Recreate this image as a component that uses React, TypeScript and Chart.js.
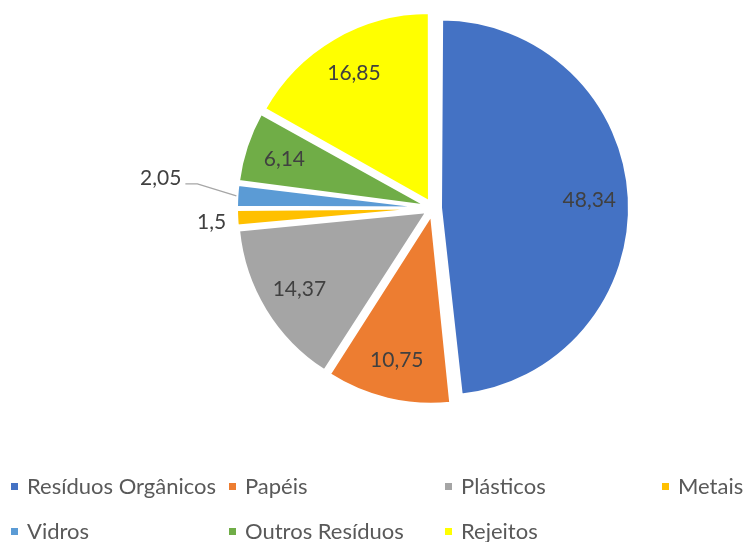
import React, { useEffect, useRef } from "react";
import { Chart, registerables } from "chart.js";

Chart.register(...registerables);

const categories = ["Resíduos Orgânicos", "Papéis", "Plásticos", "Metais", "Vidros", "Outros Resíduos", "Rejeitos"];
const values = [48.34, 10.75, 14.37, 1.5, 2.05, 6.14, 16.85];
const valueLabels = ["48,34", "10,75", "14,37", "1,5", "2,05", "6,14", "16,85"];
const colors = ["#4472C4", "#ED7D31", "#A5A5A5", "#FFC000", "#5B9BD5", "#70AD47", "#FFFF00"];

const FONT = "Lato, 'Noto Sans', sans-serif";
const OFFSET = 32; // chart.js divides by 4 -> 8px explosion
const RADIUS = 188;

const fixRadiusPlugin = {
  id: "fixRadius",
  beforeDatasetsDraw(chart: any) {
    const meta = chart.getDatasetMeta(0);
    const base = meta.controller.outerRadius;
    const off = OFFSET / 4;
    meta.data.forEach((arc: any) => {
      const circ = arc.circumference;
      const fix = 1 - Math.sin(Math.min(Math.PI, circ || 0));
      arc.outerRadius = base - off * fix;
    });
  },
};

const labelPlugin = {
  id: "sliceLabels",
  afterDatasetsDraw(chart: any) {
    const ctx = chart.ctx;
    const meta = chart.getDatasetMeta(0);
    const R = meta.controller.outerRadius;
    const off = OFFSET / 4;
    ctx.save();
    ctx.font = `21px ${FONT}`;
    ctx.fillStyle = "#404040";
    meta.data.forEach((arc: any, i: number) => {
      const mid = (arc.startAngle + arc.endAngle) / 2;
      const ax = arc.x + Math.cos(mid) * off;
      const ay = arc.y + Math.sin(mid) * off;
      const v = values[i];
      if (v >= 3) {
        ctx.textAlign = "center";
        ctx.textBaseline = "middle";
        ctx.fillText(valueLabels[i], ax + Math.cos(mid) * R * 0.79, ay + Math.sin(mid) * R * 0.79);
      } else {
        const rx = ax + Math.cos(mid) * (R + 1);
        const ry = ay + Math.sin(mid) * (R + 1);
        if (i === 4) {
          const p1x = rx - 39, p1y = ry - 12;
          const p2x = p1x - 12;
          ctx.strokeStyle = "#A6A6A6";
          ctx.lineWidth = 1.3;
          ctx.beginPath();
          ctx.moveTo(rx, ry);
          ctx.lineTo(p1x, p1y);
          ctx.lineTo(p2x, p1y);
          ctx.stroke();
          ctx.textAlign = "right";
          ctx.textBaseline = "middle";
          ctx.fillText(valueLabels[i], p2x - 4, p1y - 6);
        } else {
          ctx.textAlign = "right";
          ctx.textBaseline = "middle";
          ctx.fillText(valueLabels[i], rx - 10, ry + 4);
        }
      }
    });
    ctx.restore();
  },
};

const legendPlugin = {
  id: "gridLegend",
  afterDraw(chart: any) {
    const ctx = chart.ctx;
    const cols = [11, 229, 445, 662];
    const rows = [487, 532];
    ctx.save();
    ctx.font = `22px ${FONT}`;
    ctx.textAlign = "left";
    ctx.textBaseline = "middle";
    categories.forEach((c, i) => {
      const col = i % 4;
      const row = Math.floor(i / 4);
      const x = cols[col];
      const y = rows[row];
      ctx.fillStyle = colors[i];
      ctx.fillRect(x, y - 4, 7, 7);
      ctx.fillStyle = "#595959";
      ctx.fillText(c, x + 16, y);
    });
    ctx.restore();
  },
};

export default function App() {
  const ref = useRef<HTMLCanvasElement>(null);
  useEffect(() => {
    if (!ref.current) return;
    const chart = new Chart(ref.current, {
      type: "pie",
      data: {
        labels: categories,
        datasets: [
          {
            data: values,
            backgroundColor: colors,
            borderColor: "#FFFFFF",
            borderWidth: 2,
            offset: OFFSET,
            hoverOffset: OFFSET,
          },
        ],
      },
      options: {
        animation: false,
        responsive: false,
        radius: RADIUS,
        layout: { padding: { left: 120, right: 0, top: 0, bottom: 126 } },
        plugins: { legend: { display: false }, tooltip: { enabled: false } },
        events: [],
      },
      plugins: [fixRadiusPlugin, labelPlugin, legendPlugin],
    });
    return () => chart.destroy();
  }, []);
  return (
    <div style={{ position: "absolute", left: 0, top: 0, width: 746, height: 542, background: "#fff" }}>
      <canvas ref={ref} width={746} height={542} style={{ width: 746, height: 542 }} />
    </div>
  );
}
